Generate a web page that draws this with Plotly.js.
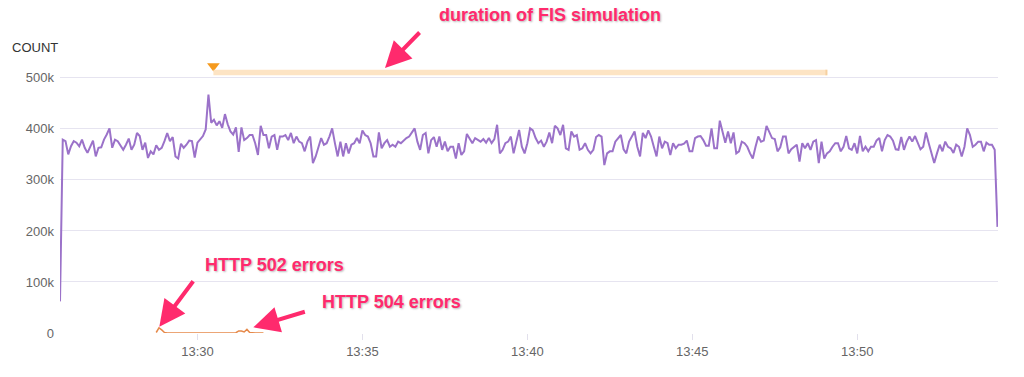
<!DOCTYPE html>
<html>
<head>
<meta charset="utf-8">
<script src="https://cdn.plot.ly/plotly-3.0.1.min.js"></script>
<style>
  html, body { margin: 0; padding: 0; background: #ffffff; }
  #chart { width: 1024px; height: 377px; }
</style>
</head>
<body>
<div id="chart"></div>
<script>
// ---- data (values in thousands) ----
const day = '2024-01-01';
const seriesStart = '13:25:50';   // first sample time
const stepSeconds = 5;            // sampling interval

const requestsSeg1 = [62,379,376,350,366,376,373,366,379,363,353,366,377,346,363,364,379,389,401,363,379,376,366,359,369,381,359,369,392,386,359,373,343,356,350,368,359,363,376,392,376,384,346,342,371,363,369,377,376,344,373,379,386,399,467,412,418,407,415,402,429,409,395,389,403,355,403];
const requestsSeg2 = [378,382,388,388,372,349,406,388,388,362,385,388,359,385,385,388,378,392,372,385,375,372,356,375,385,333,346,365,382,369,372,385,401,372,346,375,346,372,352,369,372,382,372,397,388,385,372,346,346,393,362,372,378,365,369,365,375,372,378,382,385,392,401,375,359,388];
const requestsSeg3 = [392,352,378,384,365,385,359,375,356,365,365,342,372,349,356,390,382,372,382,378,375,380,373,382,372,380,408,352,359,372,375,385,352,375,398,365,352,372,401,397,382,372,377,365,375,393,372,406,401,388,408,362,359,395,385,388,359,362,372,359,352,359,384,388,385,329,352];
const requestsSeg4 = [356,356,375,382,388,360,352,375,385,395,365,346,392,382,397,385,365,346,385,362,375,372,349,372,362,369,369,371,377,356,356,382,385,386,378,367,367,401,362,362,416,395,373,395,372,393,352,356,375,372,365,352,342,365,385,375,377,406,395,382,380,356,364,385,385,352,360];
const requestsSeg5 = [365,369,336,372,362,372,359,375,378,333,375,342,352,356,365,372,372,356,365,386,362,359,372,352,386,356,365,356,365,365,377,382,356,378,388,385,377,360,359,384,359,375,385,375,386,372,360,365,393,372,352,333,352,369,356,375,365,362,353,369,365,346,365,401,388,365,369,375,375,356,373,369,369,359,208];

const errorsStart = '13:28:45';
const errorsK = [1,10,6,1,0,0,0,0,0,0,0,0,0,0,0,0,0,0,0,0,0,0,0,0,0,0,0,0,0,0.5,4,4,2,7,1,0,0,0,0,0];

const fisStart = '13:30:29';
const fisEnd = '13:49:04';

const xRange = ['13:25:50', '13:54:16'];
const xTicks = ['13:30', '13:35', '13:40', '13:45', '13:50'];
const yTickVals = [0, 100000, 200000, 300000, 400000, 500000];
const yTickText = ['0', '100k', '200k', '300k', '400k', '500k'];

// ---- helpers ----
function toSec(hms) { const p = hms.split(':').map(Number); return p[0]*3600 + p[1]*60 + (p[2] || 0); }
function pad(n) { return (n < 10 ? '0' : '') + n; }
function stamp(sec) {
  const h = Math.floor(sec / 3600), m = Math.floor((sec % 3600) / 60), s = sec % 60;
  return day + ' ' + pad(h) + ':' + pad(m) + ':' + pad(s);
}
function timesFrom(start, n) {
  const s0 = toSec(start); const out = [];
  for (let i = 0; i < n; i++) out.push(stamp(s0 + i * stepSeconds));
  return out;
}

const requestsK = requestsSeg1.concat(requestsSeg2, requestsSeg3, requestsSeg4, requestsSeg5);
const reqX = timesFrom(seriesStart, requestsK.length);
const reqY = requestsK.map(v => v * 1000);
const errX = timesFrom(errorsStart, errorsK.length);
const errY = errorsK.map(v => v * 1000);

const pink = '#ff2a6d';
const txtShadow = '1px 1px 2px rgba(0,0,0,0.28)';
const annFont = { size: 18, color: pink, family: 'Liberation Sans, Arial, sans-serif', shadow: txtShadow };

const traces = [
  { x: reqX, y: reqY, type: 'scatter', mode: 'lines', name: 'requests',
    line: { color: '#9b72c9', width: 2 }, hoverinfo: 'skip' },
  { x: errX, y: errY, type: 'scatter', mode: 'lines', name: 'errors',
    line: { color: '#e6894a', width: 1.5 }, hoverinfo: 'skip' },
  { x: [stamp(toSec(fisStart))], y: [523000], type: 'scatter', mode: 'markers',
    marker: { symbol: 'triangle-down', size: 11, color: '#f59a1e' }, cliponaxis: false, hoverinfo: 'skip' }
];

const layout = {
  width: 1024, height: 377,
  margin: { l: 60, r: 26, t: 60, b: 44 },
  paper_bgcolor: '#ffffff', plot_bgcolor: '#ffffff',
  showlegend: false,
  font: { family: 'Liberation Sans, Arial, sans-serif', size: 13, color: '#666666' },
  xaxis: {
    type: 'date',
    range: xRange.map(t => day + ' ' + t),
    tickvals: xTicks.map(t => day + ' ' + t + ':00'),
    ticktext: xTicks,
    showgrid: false, zeroline: false, showline: false,
    ticks: 'outside', ticklen: 6, tickcolor: '#e2e0ec', tickwidth: 1,
    tickfont: { size: 13, color: '#666666' }
  },
  yaxis: {
    range: [0, 535000],
    tickvals: yTickVals, ticktext: yTickText,
    showgrid: true, gridcolor: '#e6e4f0', gridwidth: 1,
    zeroline: false, showline: false, ticks: '',
    ticklabelstandoff: 5,
    tickfont: { size: 13, color: '#666666' }
  },
  shapes: [
    { type: 'rect', xref: 'x', yref: 'y',
      x0: stamp(toSec(fisStart)), x1: stamp(toSec(fisEnd)), y0: 505000, y1: 516000,
      fillcolor: '#fde4c4', line: { width: 0 } },
    { type: 'line', xref: 'x', yref: 'y',
      x0: stamp(toSec(fisEnd)), x1: stamp(toSec(fisEnd)), y0: 505000, y1: 516000,
      line: { color: '#f6d0a0', width: 2 } }
  ],
  annotations: [
    { text: 'COUNT', xref: 'paper', yref: 'paper', x: -0.0533, y: 1.044, xanchor: 'left', yanchor: 'middle',
      showarrow: false, font: { size: 13, color: '#333333' } },
    { text: '<b>duration of FIS simulation</b>', xref: 'paper', yref: 'paper', x: 0.5224, y: 1.1648,
      xanchor: 'center', yanchor: 'middle', showarrow: false, font: annFont },
    { text: '<b>HTTP 502 errors</b>', xref: 'paper', yref: 'paper', x: 0.2292, y: 0.2491,
      xanchor: 'center', yanchor: 'middle', showarrow: false, font: annFont },
    { text: '<b>HTTP 504 errors</b>', xref: 'paper', yref: 'paper', x: 0.3529, y: 0.1136,
      xanchor: 'center', yanchor: 'middle', showarrow: false, font: annFont },
    { text: '', xref: 'paper', yref: 'paper', x: 0.3465, y: 0.9707, showarrow: true,
      ax: 36, ay: -37, arrowhead: 2, arrowsize: 1.3, arrowwidth: 4, arrowcolor: pink, standoff: 0 },
    { text: '', xref: 'paper', yref: 'paper', x: 0.1059, y: 0.0231, showarrow: true,
      ax: 35, ay: -47, arrowhead: 2, arrowsize: 1.3, arrowwidth: 4, arrowcolor: pink, standoff: 0 },
    { text: '', xref: 'paper', yref: 'paper', x: 0.2061, y: 0.0209, showarrow: true,
      ax: 53, ay: -16, arrowhead: 2, arrowsize: 1.3, arrowwidth: 4, arrowcolor: pink, standoff: 0 }
  ]
};

Plotly.newPlot('chart', traces, layout, { displayModeBar: false, staticPlot: true });
</script>
</body>
</html>
